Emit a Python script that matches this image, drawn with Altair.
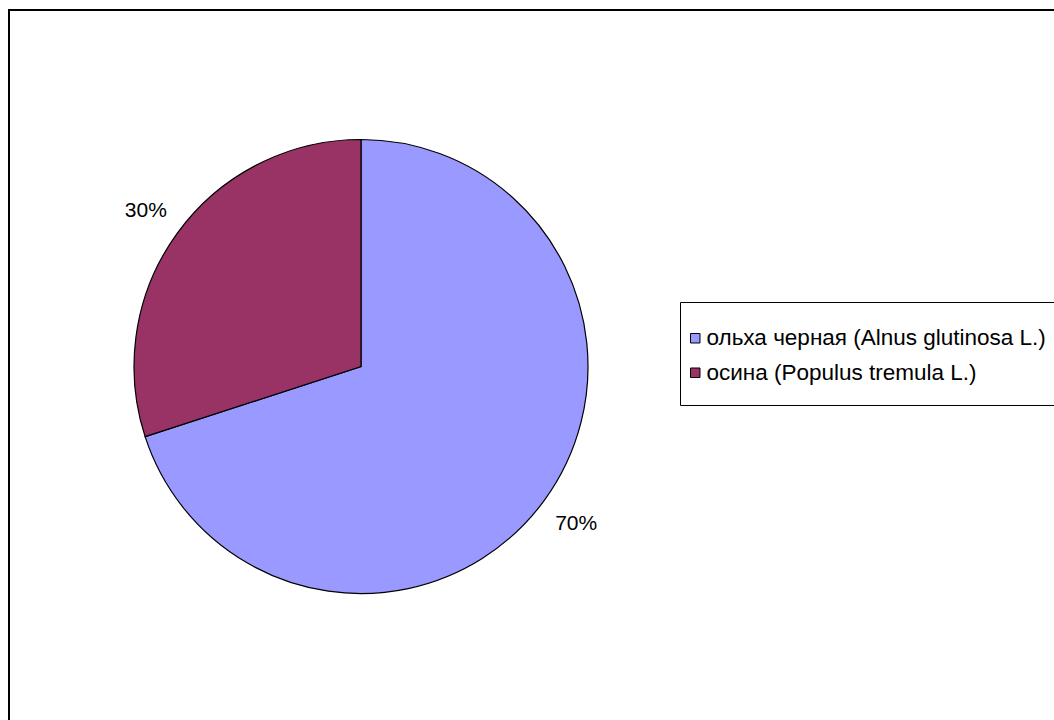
import altair as alt
import pandas as pd

species = ["ольха черная (Alnus glutinosa L.)", "осина (Populus tremula L.)"]
shares = [70, 30]
labels = ["70%", "30%"]
colors = ["#9999FF", "#993366"]

df = pd.DataFrame({"species": species, "share": shares, "label": labels,
                   "order": list(range(len(species)))})
one = pd.DataFrame({"k": [0]})

W, H = 1054, 720
FONT = "Liberation Sans"

border = alt.Chart(one).mark_rect(fill=None, stroke="black", strokeWidth=2).encode(
    x=alt.value(9), x2=alt.value(1080), y=alt.value(10), y2=alt.value(760)
)
legend_box = alt.Chart(one).mark_rect(fill="white", stroke="black", strokeWidth=1).encode(
    x=alt.value(680.5), x2=alt.value(1080), y=alt.value(302.5), y2=alt.value(405.5)
)

base = alt.Chart(df).encode(
    theta=alt.Theta("share:Q", stack=True),
    order=alt.Order("order:Q"),
)

pie = base.mark_arc(stroke="black", strokeWidth=1.2).encode(
    color=alt.Color(
        "species:N",
        scale=alt.Scale(domain=species, range=colors),
        sort=species,
        legend=alt.Legend(
            title=None, orient="none", legendX=684, legendY=327,
            symbolType="square", symbolSize=90, symbolStrokeColor="black",
            symbolStrokeWidth=1, labelFont=FONT, labelFontSize=22.5,
            labelColor="black", rowPadding=11.5, labelOffset=0, labelLimit=500,
            padding=0,
        ),
    ),
    x=alt.value(361), y=alt.value(366.5), radius=alt.value(227),
)

text = base.mark_text(font=FONT, fontSize=21, color="black", align="center",
                      baseline="middle").encode(
    text="label:N", x=alt.value(361), y=alt.value(367.5), radius=alt.value(266),
)

chart = alt.layer(border, legend_box, pie, text).properties(
    width=W, height=H, padding=0, autosize=alt.AutoSizeParams(type="none"),
    background="white",
).configure_view(stroke=None)

chart.save("out.html", embed_options={"renderer": "svg", "actions": False})
